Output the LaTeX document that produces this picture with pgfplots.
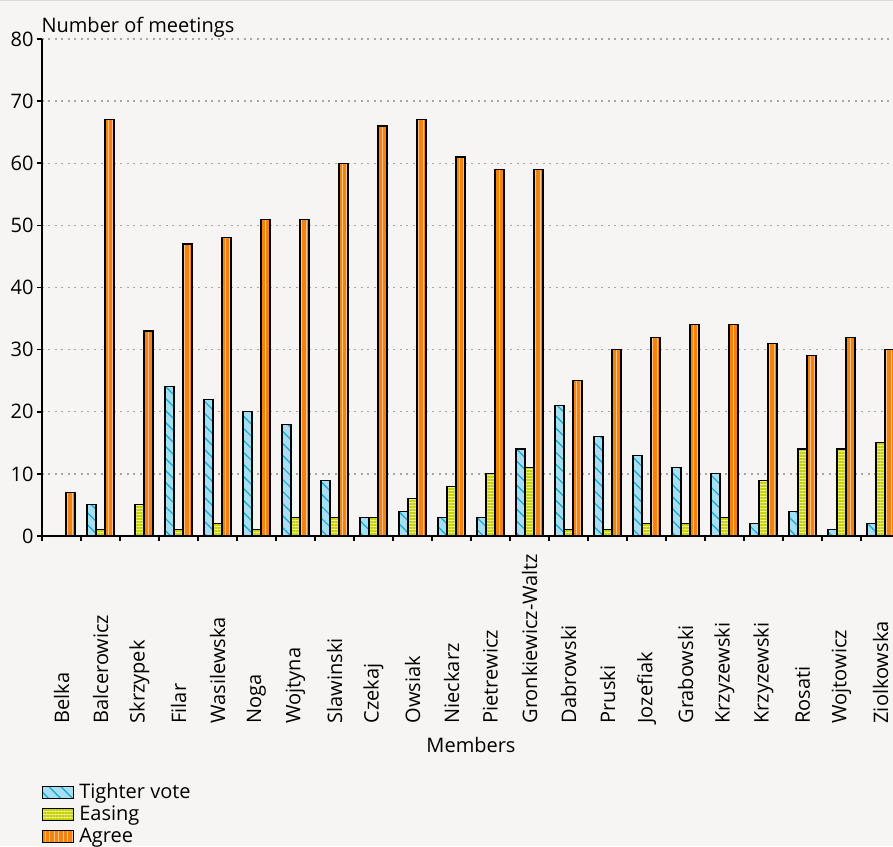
\documentclass[border=0pt]{standalone}
\usepackage{fontspec}
\setmainfont{Open Sans}
\usepackage{pgfplots}
\usepackage{pgfplotstable}
\pgfplotsset{compat=1.18}
\usetikzlibrary{patterns.meta}

\definecolor{bg}{HTML}{F7F5F3}
\definecolor{tvfill}{HTML}{A3E0F3}
\definecolor{tvline}{HTML}{1AA4D4}
\definecolor{esfill}{HTML}{E9EF8E}
\definecolor{esline}{HTML}{C6D000}
\definecolor{agfill}{HTML}{F5820F}
\definecolor{agline}{HTML}{FFC58A}

\newcommand{\chartfont}{\fontsize{20}{22}\selectfont}

% members, votes: tighter / easing / agree
\pgfplotstableread{
x T E A
0 0 0 7
1 5 1 67
2 0 5 33
3 24 1 47
4 22 2 48
5 20 1 51
6 18 3 51
7 9 3 60
8 3 3 66
9 4 6 67
10 3 8 61
11 3 10 59
12 14 11 59
13 21 1 25
14 16 1 30
15 13 2 32
16 11 2 34
17 10 3 34
18 2 9 31
19 4 14 29
20 1 14 32
21 2 15 30
}\votes

\begin{document}
\begin{tikzpicture}[x=1pt,y=1pt]
\useasboundingbox[fill=bg] (-42,-310) rectangle (851,536);
\draw[line width=1.5pt, color=black!15] (-42,535.3) -- (851,535.3);
\begin{axis}[
  at={(0,0)}, anchor=south west,
  scale only axis, width=858pt, height=497pt,
  ybar=0pt, bar width=9pt,
  xmin=-0.5, xmax=21.5, ymin=0, ymax=80,
  axis x line*=bottom, axis y line*=left,
  axis line style={line width=2.2pt},
  ytick={0,10,...,80},
  xtick={0,...,21},
  xticklabels={Belka,Balcerowicz,Skrzypek,Filar,Wasilewska,Noga,Wojtyna,Slawinski,Czekaj,Owsiak,Nieckarz,Pietrewicz,Gronkiewicz-Waltz,Dabrowski,Pruski,Jozefiak,Grabowski,Krzyzewski,Krzyzewski,Rosati,Wojtowicz,Ziolkowska},
  minor xtick={-0.5,0.5,...,21.5},
  major x tick style={draw=none},
  tick align=outside,
  major tick length=5pt, minor tick length=5pt,
  tick style={line width=1.6pt, black},
  ymajorgrids,
  grid style={line width=1.3pt, color=black!35, dash pattern=on 2pt off 4.5pt},
  tick label style={font=\chartfont},
  /pgf/number format/assume math mode=true,
  xticklabel style={yshift=-186pt, rotate=90, anchor=west},
  ylabel={Number of meetings},
  ylabel style={at={(axis description cs:0,1)}, rotate=-90, anchor=base west, yshift=7pt, xshift=-4pt, font=\chartfont},
  xlabel={Members},
  xlabel style={at={(axis description cs:0.5,0)}, anchor=base, yshift=-216pt, font=\chartfont},
  legend style={at={(axis description cs:0,-0.493)}, anchor=north west, draw=none, fill=none,
    font=\chartfont, inner sep=0pt, row sep=0pt,
    nodes={inner sep=1pt, text height=16pt, text depth=4pt},
    cells={anchor=west}},
  legend image code/.code={\draw[#1] (0pt,-6pt) rectangle (31pt,6pt); \path (35pt,0pt);},
]
\addplot[fill=tvfill, draw=black, line width=1.1pt,
  postaction={pattern={Lines[angle=-45,distance=8.5pt,line width=1.2pt]}, pattern color=tvline}]
  table[x=x,y=T] {\votes};
\addplot[fill=esfill, draw=black, line width=1.1pt,
  postaction={pattern={Lines[angle=0,distance=3pt,line width=1.5pt]}, pattern color=esline}]
  table[x=x,y=E] {\votes};
\addplot[fill=agfill, draw=black, line width=1.1pt,
  postaction={pattern={Lines[angle=90,distance=4.5pt,line width=1pt]}, pattern color=agline}]
  table[x=x,y=A] {\votes};
\legend{Tighter vote,Easing,Agree}
\end{axis}
\end{tikzpicture}
\end{document}
